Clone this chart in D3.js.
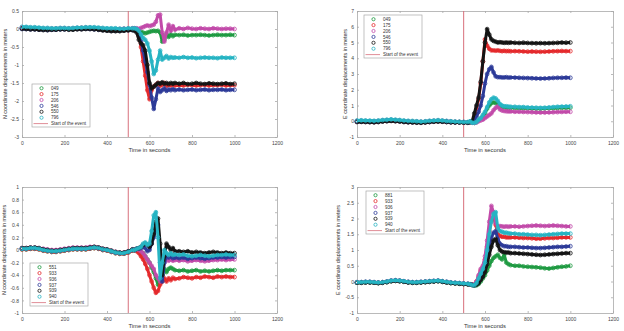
<!DOCTYPE html>
<html>
<head>
<meta charset="utf-8">
<script src="https://cdn.jsdelivr.net/npm/d3@7"></script>
<style>
  body { margin: 0; background: #fff; }
  svg { display: block; font-family: "Liberation Sans", Arial, sans-serif; }
  .axis path, .axis line { stroke: #a8a8a8; stroke-width: 0.8; }
  .axis text { fill: #444; font-size: 5px; }
</style>
</head>
<body>
<svg id="chart" width="624" height="331"></svg>
<script>
'use strict';

// sample times (s), shared by every series
var T = [0,20,40,60,80,100,120,140,160,180,200,220,240,260,280,300,320,340,360,380,400,420,440,460,480,500,520,
         530,540,550,560,570,580,590,600,610,620,630,640,650,660,670,680,690,700,710,720,
         740,760,780,800,820,840,860,880,900,920,940,960,980,1000];

var xTicks = [0,200,400,600,800,1000,1200];
var eventTime = 500;

// ---- panel 1 : N displacements, stations 049..796
var n1_049 = [0.02,0.02,0.01,0.01,0,0,-0.01,-0.01,0,0,0.01,0,0,0.01,0.02,0.02,0.02,0.01,0,-0.01,-0.02,-0.03,-0.03,-0.02,-0.01,0,0,
  0,-0.02,-0.05,-0.08,-0.1,-0.12,-0.1,-0.08,-0.06,-0.05,-0.06,-0.05,-0.1,-0.35,-0.3,-0.15,-0.22,-0.15,-0.2,-0.16,
  -0.17,-0.16,-0.18,-0.17,-0.17,-0.16,-0.17,-0.18,-0.17,-0.16,-0.17,-0.17,-0.16,-0.17];
var n1_175 = [0.03,0.03,0.02,0.02,0.01,0,0,0,0.01,0.01,0.01,0.01,0.01,0.02,0.03,0.03,0.03,0.02,0.01,0,-0.01,-0.02,-0.02,-0.01,0,0,0.01,
  0,-0.05,-0.2,-0.5,-0.9,-1.3,-1.7,-1.95,-1.7,-1.6,-1.55,-1.5,-1.58,-1.55,-1.5,-1.58,-1.55,-1.57,-1.55,-1.57,
  -1.56,-1.57,-1.55,-1.56,-1.57,-1.56,-1.55,-1.57,-1.56,-1.56,-1.55,-1.57,-1.56,-1.56];
var n1_206 = [0.04,0.04,0.03,0.03,0.02,0.01,0.01,0.01,0.01,0.02,0.02,0.01,0.02,0.03,0.03,0.04,0.04,0.03,0.02,0.01,0,0,0,0,0.01,0.01,0.02,
  0.02,0.02,0,0.03,0.05,0.08,0.1,0.08,0.1,0.12,0.2,0.38,0.4,-0.1,-0.35,-0.1,0.12,-0.05,0.08,-0.02,
  0.02,0,0.03,0.01,0,0.02,0.01,0,0.02,0.01,0,0.01,0.01,0];
var n1_546 = [0,0,-0.01,-0.01,-0.02,-0.02,-0.03,-0.02,-0.02,-0.01,-0.01,-0.01,-0.01,0,0,0.01,0,-0.01,-0.02,-0.03,-0.04,-0.05,-0.05,-0.05,-0.04,-0.03,-0.03,
  -0.02,-0.05,-0.15,-0.35,-0.6,-0.9,-1.2,-1.55,-1.9,-2.22,-1.95,-1.65,-1.75,-1.7,-1.65,-1.72,-1.68,-1.7,-1.67,-1.7,
  -1.68,-1.7,-1.69,-1.68,-1.7,-1.69,-1.68,-1.7,-1.69,-1.69,-1.68,-1.7,-1.69,-1.69];
var n1_550 = [0.01,0,-0.01,-0.01,-0.02,-0.03,-0.03,-0.02,-0.02,-0.01,-0.01,-0.02,-0.02,-0.01,-0.01,0,0,-0.01,-0.02,-0.04,-0.05,-0.06,-0.06,-0.06,-0.05,-0.04,-0.03,
  -0.05,-0.1,-0.3,-0.4,-0.45,-0.6,-1,-1.5,-1.65,-1.6,-1.55,-1.5,-1.52,-1.48,-1.52,-1.5,-1.53,-1.5,-1.52,-1.5,
  -1.52,-1.5,-1.53,-1.52,-1.5,-1.52,-1.53,-1.51,-1.52,-1.53,-1.52,-1.51,-1.53,-1.52];
var n1_796 = [0.06,0.06,0.05,0.05,0.04,0.03,0.03,0.02,0.02,0.03,0.03,0.02,0.03,0.04,0.04,0.05,0.05,0.05,0.04,0.03,0.02,0.02,0.02,0.01,0.01,0.02,0.02,
  0.02,0,-0.05,-0.15,-0.25,-0.3,-0.4,-0.6,-0.9,-1.25,-1.15,-0.85,-0.6,-0.85,-0.8,-0.75,-0.82,-0.78,-0.8,-0.79,
  -0.8,-0.78,-0.8,-0.79,-0.81,-0.8,-0.79,-0.8,-0.8,-0.81,-0.79,-0.8,-0.8,-0.8];

// ---- panel 2 : E displacements, stations 049..796
var e1_049 = [0,0.01,0,-0.01,-0.02,0,0.03,0.05,0.07,0.05,0.03,0,-0.02,-0.03,-0.04,-0.05,-0.04,-0.01,0.01,0.03,0.01,-0.01,-0.03,-0.04,-0.05,-0.06,-0.07,
  -0.05,-0.08,-0.1,-0.05,0.05,0.15,0.3,0.5,0.8,1,1.15,1.2,1.15,1.1,1,0.9,0.88,0.86,0.85,0.85,
  0.84,0.83,0.82,0.82,0.81,0.8,0.8,0.81,0.82,0.83,0.84,0.85,0.85,0.86];
var e1_175 = [-0.02,-0.01,-0.02,-0.03,-0.04,-0.02,0.01,0.03,0.05,0.03,0.01,-0.02,-0.04,-0.05,-0.06,-0.07,-0.06,-0.03,-0.01,0.01,-0.01,-0.03,-0.05,-0.06,-0.06,-0.07,-0.08,
  -0.05,0,0.3,0.8,1.4,2.4,3.8,5.2,4.8,4.6,4.5,4.5,4.48,4.5,4.47,4.45,4.47,4.45,4.46,4.44,
  4.45,4.44,4.43,4.42,4.43,4.42,4.41,4.42,4.43,4.44,4.45,4.46,4.45,4.45];
var e1_206 = [0.02,0.03,0.02,0.01,0,0.02,0.05,0.07,0.09,0.07,0.05,0.02,0,-0.01,-0.02,-0.03,-0.02,0.01,0.03,0.05,0.03,0.01,-0.01,-0.03,-0.04,-0.05,-0.06,
  -0.05,-0.08,-0.1,-0.08,0,0.05,0.1,0.2,0.3,0.4,0.5,0.7,0.85,0.95,0.75,0.68,0.65,0.63,0.62,0.62,
  0.6,0.6,0.59,0.58,0.57,0.56,0.55,0.55,0.56,0.57,0.58,0.59,0.6,0.6];
var e1_546 = [-0.03,-0.02,-0.03,-0.04,-0.05,-0.03,0,0.02,0.04,0.02,0,-0.03,-0.05,-0.06,-0.07,-0.08,-0.06,-0.04,-0.02,0,-0.02,-0.04,-0.06,-0.07,-0.07,-0.08,-0.09,
  -0.05,-0.05,0.1,0.3,0.6,1,1.6,2.4,3,3.3,3.45,3.1,2.85,2.8,2.8,2.78,2.78,2.8,2.77,2.78,
  2.77,2.76,2.75,2.74,2.73,2.72,2.71,2.72,2.73,2.75,2.76,2.76,2.77,2.76];
var e1_550 = [-0.05,-0.04,-0.05,-0.06,-0.07,-0.05,-0.02,0,0.02,0,-0.02,-0.05,-0.07,-0.08,-0.09,-0.1,-0.08,-0.05,-0.03,-0.02,-0.03,-0.05,-0.07,-0.08,-0.08,-0.09,-0.1,
  -0.05,0,0.5,1,1.5,2.5,3.8,5,5.85,5.5,5.2,5.1,5.05,5,5.02,5,4.98,5,4.98,5,
  4.98,4.97,4.99,4.97,4.96,4.95,4.96,4.95,4.96,4.97,4.98,5,4.99,5];
var e1_796 = [0.05,0.06,0.05,0.04,0.03,0.05,0.08,0.1,0.12,0.1,0.08,0.05,0.03,0.02,0,-0.02,0,0.03,0.05,0.07,0.05,0.02,0,-0.02,-0.03,-0.04,-0.05,
  0,-0.1,-0.1,-0.05,0.1,0.2,0.4,0.6,0.9,1.2,1.4,1.5,1.45,1.3,1.1,1,0.95,0.95,0.93,0.92,
  0.92,0.9,0.9,0.88,0.87,0.86,0.85,0.86,0.88,0.9,0.92,0.93,0.94,0.95];

// ---- panel 3 : N displacements, stations 551..940
var n2_551 = [0.01,0.01,0.02,0.02,0.01,-0.01,-0.02,-0.03,-0.03,-0.02,-0.01,0,0.01,0.01,0.01,0.01,0.02,0.03,0.02,0,-0.01,-0.03,-0.05,-0.06,-0.06,-0.04,-0.01,
  0,0,-0.02,-0.03,-0.05,-0.1,-0.15,-0.2,-0.28,-0.35,-0.45,-0.55,-0.5,-0.4,-0.3,-0.35,-0.3,-0.28,-0.3,-0.32,
  -0.33,-0.32,-0.34,-0.33,-0.32,-0.34,-0.33,-0.34,-0.33,-0.32,-0.33,-0.32,-0.32,-0.32];
var n2_933 = [0.01,0.01,0.02,0.02,0.01,-0.01,-0.02,-0.03,-0.03,-0.02,-0.01,0,0.01,0.01,0.01,0.01,0.02,0.03,0.02,0,-0.01,-0.03,-0.05,-0.06,-0.06,-0.04,-0.01,
  0,-0.02,-0.05,-0.1,-0.15,-0.22,-0.3,-0.4,-0.5,-0.6,-0.68,-0.65,-0.55,-0.5,-0.45,-0.5,-0.45,-0.48,-0.44,-0.46,
  -0.45,-0.43,-0.44,-0.45,-0.43,-0.44,-0.42,-0.43,-0.44,-0.42,-0.43,-0.42,-0.43,-0.43];
var n2_936 = [0.03,0.03,0.04,0.04,0.03,0.02,0.01,0,0,0.01,0.02,0.03,0.04,0.04,0.04,0.04,0.05,0.05,0.04,0.02,0.01,-0.01,-0.03,-0.04,-0.04,-0.02,0.01,
  0,0.02,0,-0.02,-0.05,-0.1,-0.15,-0.2,-0.25,-0.3,-0.4,-0.45,-0.5,-0.35,-0.2,-0.15,-0.17,-0.15,-0.17,-0.16,
  -0.17,-0.16,-0.18,-0.17,-0.16,-0.17,-0.18,-0.17,-0.16,-0.16,-0.15,-0.16,-0.15,-0.15];
var n2_937 = [0.02,0.02,0.03,0.03,0.02,0,-0.01,-0.02,-0.02,-0.01,0,0.01,0.02,0.02,0.02,0.02,0.03,0.04,0.03,0.01,0,-0.02,-0.04,-0.05,-0.05,-0.03,0,
  0,0.02,0.02,0.03,0.05,0.03,-0.02,0,0.1,0.2,0.35,0.4,-0.2,-0.5,-0.2,-0.1,-0.12,-0.1,-0.13,-0.12,
  -0.13,-0.12,-0.14,-0.13,-0.12,-0.13,-0.14,-0.13,-0.12,-0.12,-0.11,-0.12,-0.11,-0.11];
var n2_939 = [0.03,0.03,0.04,0.04,0.03,0.01,0,-0.01,-0.01,0,0.01,0.02,0.03,0.03,0.03,0.03,0.04,0.05,0.04,0.02,0.01,-0.01,-0.03,-0.04,-0.04,-0.02,0.01,
  0,0.02,0.03,0.05,0.08,0.1,0.08,0.05,0.1,0.25,0.45,0.5,0.1,-0.4,-0.1,0.1,0.05,0,0.03,-0.02,
  -0.02,-0.03,-0.02,-0.04,-0.03,-0.04,-0.05,-0.04,-0.03,-0.04,-0.05,-0.04,-0.05,-0.05];
var n2_940 = [0.02,0.02,0.03,0.03,0.02,0,-0.01,-0.02,-0.02,-0.01,0,0.01,0.02,0.02,0.02,0.02,0.03,0.04,0.03,0.01,0,-0.02,-0.04,-0.05,-0.05,-0.03,0,
  0,0.02,0.03,0.05,0.1,0.12,0.08,0.1,0.3,0.55,0.6,0.2,-0.45,-0.2,0,-0.05,-0.08,-0.05,-0.08,-0.07,
  -0.08,-0.07,-0.09,-0.1,-0.09,-0.08,-0.09,-0.1,-0.09,-0.08,-0.08,-0.07,-0.08,-0.08];

// ---- panel 4 : E displacements, stations 881..940
var e2_881 = [-0.04,-0.04,-0.03,-0.03,-0.04,-0.05,-0.04,-0.02,0.01,0.02,0.01,-0.01,-0.03,-0.04,-0.04,-0.03,-0.02,-0.01,0,0.01,-0.01,-0.03,-0.05,-0.06,-0.07,-0.08,-0.09,
  -0.09,-0.11,-0.13,-0.12,-0.08,0,0.1,0.2,0.35,0.5,0.65,0.75,0.8,0.85,0.75,0.7,0.85,0.6,0.55,0.52,
  0.5,0.5,0.48,0.47,0.46,0.45,0.44,0.42,0.41,0.43,0.45,0.47,0.48,0.5];
var e2_933 = [-0.03,-0.03,-0.02,-0.02,-0.03,-0.04,-0.03,-0.01,0.02,0.03,0.02,0,-0.02,-0.03,-0.03,-0.02,-0.01,0,0.01,0.02,0,-0.02,-0.04,-0.05,-0.06,-0.07,-0.08,
  -0.09,-0.1,-0.1,0,0.15,0.35,0.45,0.7,1.1,1.6,1.95,2.05,1.8,1.5,1.45,1.42,1.42,1.4,1.4,1.4,
  1.4,1.39,1.38,1.38,1.37,1.36,1.36,1.37,1.38,1.38,1.39,1.4,1.4,1.4];
var e2_936 = [-0.02,-0.02,-0.01,-0.01,-0.02,-0.03,-0.02,0,0.03,0.04,0.03,0.01,-0.01,-0.02,-0.02,-0.01,0,0.01,0.02,0.03,0.01,-0.01,-0.03,-0.04,-0.05,-0.06,-0.07,
  -0.09,-0.1,-0.1,0,0.2,0.4,0.5,0.8,1.3,1.9,2.4,2.2,1.85,1.75,1.76,1.75,1.74,1.75,1.74,1.75,
  1.75,1.74,1.75,1.76,1.77,1.78,1.77,1.76,1.77,1.78,1.77,1.76,1.75,1.75];
var e2_937 = [-0.03,-0.03,-0.02,-0.02,-0.03,-0.04,-0.03,-0.01,0.02,0.03,0.02,0,-0.02,-0.03,-0.03,-0.02,-0.01,0,0.01,0.02,0,-0.02,-0.04,-0.05,-0.06,-0.07,-0.08,
  -0.09,-0.11,-0.12,-0.08,0,0.1,0.25,0.45,0.75,1.1,1.4,1.55,1.6,1.35,1.2,1.15,1.12,1.12,1.1,1.1,
  1.1,1.09,1.08,1.08,1.07,1.06,1.06,1.07,1.08,1.09,1.1,1.1,1.11,1.12];
var e2_939 = [-0.04,-0.04,-0.03,-0.03,-0.04,-0.05,-0.04,-0.02,0.01,0.02,0.01,-0.01,-0.03,-0.04,-0.04,-0.03,-0.02,-0.01,0,0.01,-0.01,-0.03,-0.05,-0.06,-0.07,-0.08,-0.09,
  -0.09,-0.11,-0.12,-0.1,-0.05,0.05,0.15,0.3,0.55,0.85,1.1,1.3,1.35,1.15,1,0.95,0.93,0.92,0.92,0.9,
  0.9,0.89,0.88,0.87,0.86,0.85,0.84,0.85,0.86,0.87,0.88,0.89,0.9,0.9];
var e2_940 = [-0.02,-0.02,-0.01,-0.01,-0.02,-0.03,-0.02,0,0.03,0.04,0.03,0.01,-0.01,-0.02,-0.02,-0.01,0,0.01,0.02,0.03,0.01,-0.01,-0.03,-0.04,-0.05,-0.06,-0.07,
  -0.09,-0.11,-0.12,-0.05,0.1,0.25,0.4,0.6,1,1.5,1.9,2.15,2.2,1.7,1.6,1.58,1.55,1.55,1.53,1.52,
  1.52,1.5,1.5,1.49,1.48,1.48,1.47,1.48,1.49,1.5,1.51,1.52,1.52,1.52];

var labels1 = ["049","175","206","546","550","796"];
var labels2 = ["551","933","936","937","939","940"];
var labels3 = ["881","933","936","937","939","940"];

var yTicksN1 = [-3,-2.5,-2,-1.5,-1,-0.5,0,0.5];
var yTicksE1 = [-1,0,1,2,3,4,5,6,7];
var yTicksN2 = [-1,-0.8,-0.6,-0.4,-0.2,0,0.2,0.4,0.6,0.8,1];
var yTicksE2 = [-1,-0.5,0,0.5,1,1.5,2,2.5,3];

var colors = ["#1f9a42", "#e42a2c", "#c24aa9", "#2c3a98", "#141414", "#26b4c3"];
var eventColor = "#d8707c";
var eventLabel = "Start of the event";

function panel(svg, cfg) {
    var w = cfg.width, h = cfg.height;
    var g = svg.append("g").attr("transform", "translate(" + cfg.left + "," + cfg.top + ")");

    var xScale = d3.scaleLinear().domain([0, 1200]).range([0, w]),
        yScale = d3.scaleLinear().domain(cfg.yDomain).range([h, 0]);

    var fmt = function(d) { return String(d); };

    // frame with inward ticks on all four sides
    g.append("g").attr("class", "axis").attr("transform", "translate(0," + h + ")")
        .call(d3.axisBottom(xScale).tickValues(xTicks).tickFormat(fmt).tickSizeInner(-2).tickSizeOuter(0).tickPadding(4));
    g.append("g").attr("class", "axis")
        .call(d3.axisTop(xScale).tickValues(xTicks).tickFormat("").tickSizeInner(-2).tickSizeOuter(0));
    g.append("g").attr("class", "axis")
        .call(d3.axisLeft(yScale).tickValues(cfg.yTicks).tickFormat(fmt).tickSizeInner(-2).tickSizeOuter(0).tickPadding(3));
    g.append("g").attr("class", "axis").attr("transform", "translate(" + w + ",0)")
        .call(d3.axisRight(yScale).tickValues(cfg.yTicks).tickFormat("").tickSizeInner(-2).tickSizeOuter(0));

    // axis titles
    g.append("text").text("Time in seconds")
        .attr("x", w / 2).attr("y", h + 14.5)
        .attr("text-anchor", "middle").style("font-size", "5.8px").style("fill", "#333");
    g.append("text").text(cfg.ylabel)
        .attr("transform", "translate(" + cfg.ylabelX + "," + (h / 2) + ") rotate(-90)")
        .attr("text-anchor", "middle").style("font-size", "5.4px").style("fill", "#333");

    // start of the event
    g.append("line")
        .attr("x1", xScale(eventTime)).attr("x2", xScale(eventTime))
        .attr("y1", 0).attr("y2", h)
        .style("stroke", eventColor).style("stroke-width", 1);

    // series: thick band + open circle markers
    var line = d3.line()
        .x(function(d, i) { return xScale(T[i]); })
        .y(function(d) { return yScale(d); });

    cfg.series.forEach(function(s, k) {
        var sg = g.append("g");
        sg.append("path")
            .attr("d", line(s))
            .style("fill", "none")
            .style("stroke", colors[k])
            .style("stroke-width", 3)
            .style("stroke-linejoin", "round");
        sg.selectAll("circle").data(s).enter().append("circle")
            .attr("cx", function(d, i) { return xScale(T[i]); })
            .attr("cy", function(d) { return yScale(d); })
            .attr("r", 1.9)
            .style("fill", "none")
            .style("stroke", colors[k])
            .style("stroke-width", 0.8);
    });

    // legend
    var lg = g.append("g").attr("transform", "translate(" + cfg.legend[0] + "," + cfg.legend[1] + ")");
    lg.append("rect").attr("width", 58).attr("height", 43)
        .style("fill", "#fff").style("stroke", "#a8a8a8").style("stroke-width", 0.7);
    cfg.labels.forEach(function(lab, k) {
        var yy = 4.2 + k * 5.9;
        lg.append("circle").attr("cx", 9.5).attr("cy", yy).attr("r", 1.6)
            .style("fill", "none").style("stroke", colors[k]).style("stroke-width", 0.8);
        lg.append("text").text(lab).attr("x", 19).attr("y", yy + 1.6)
            .style("font-size", "4.6px").style("fill", "#333");
    });
    var ye = 4.2 + 6 * 5.9;
    lg.append("line").attr("x1", 1.5).attr("x2", 16).attr("y1", ye).attr("y2", ye)
        .style("stroke", eventColor).style("stroke-width", 0.8);
    lg.append("text").text(eventLabel).attr("x", 19).attr("y", ye + 1.6)
        .style("font-size", "4.6px").style("fill", "#333");
}

var svg = d3.select("#chart");
svg.append("rect").attr("width", 624).attr("height", 331).style("fill", "#fff");

panel(svg, {
    left: 22, top: 11, width: 255, height: 126,
    yDomain: [-3, 0.5], yTicks: yTicksN1,
    ylabel: "N coordinate displacements in meters", ylabelX: -15,
    series: [n1_049, n1_175, n1_206, n1_546, n1_550, n1_796],
    labels: labels1, legend: [10, 73]
});
panel(svg, {
    left: 357, top: 11, width: 256, height: 126,
    yDomain: [-1, 7], yTicks: yTicksE1,
    ylabel: "E coordinate displacements in meters", ylabelX: -10,
    series: [e1_049, e1_175, e1_206, e1_546, e1_550, e1_796],
    labels: labels1, legend: [7, 4]
});
panel(svg, {
    left: 22, top: 187, width: 255, height: 126,
    yDomain: [-1, 1], yTicks: yTicksN2,
    ylabel: "N coordinate displacements in meters", ylabelX: -16,
    series: [n2_551, n2_933, n2_936, n2_937, n2_939, n2_940],
    labels: labels2, legend: [8, 76]
});
panel(svg, {
    left: 357, top: 187, width: 256, height: 126,
    yDomain: [-1, 3], yTicks: yTicksE2,
    ylabel: "E coordinate displacements in meters", ylabelX: -17,
    series: [e2_881, e2_933, e2_936, e2_937, e2_939, e2_940],
    labels: labels3, legend: [9, 4]
});
</script>
</body>
</html>
